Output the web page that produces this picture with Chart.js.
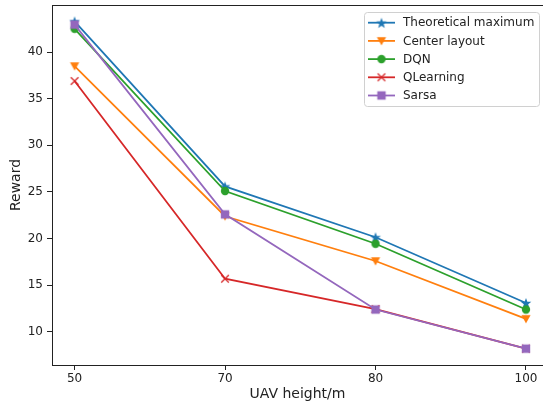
<!DOCTYPE html>
<html>
<head>
<meta charset="utf-8">
<script src="https://cdn.jsdelivr.net/npm/chart.js@4"></script>
<style>
  html, body { margin: 0; padding: 0; background: #fff; overflow: hidden; }
  #wrap { width: 543px; height: 412px; }
</style>
</head>
<body>
<div id="wrap"><canvas id="myChart"></canvas></div>
<script>
// datos
const alturas = ['50', '70', '80', '100'];
const yTicks = [10, 15, 20, 25, 30, 35, 40];
const teorico = [43.3, 25.6, 20.15, 13.1];
const centro = [38.5, 22.4, 17.6, 11.4];
const dqn = [42.5, 25.1, 19.45, 12.4];
const qlearning = [36.9, 15.7, 12.45, 8.2];
const sarsa = [42.95, 22.6, 12.4, 8.2];

const nombres = ['Theoretical maximum', 'Center layout', 'DQN', 'QLearning', 'Sarsa'];
const series = [teorico, centro, dqn, qlearning, sarsa];
const colores = ['#1f77b4', '#ff7f0e', '#2ca02c', '#d62728', '#9467bd'];
const marcas = ['star', 'tri', 'circle', 'x', 'square'];

const fuente = 'DejaVu Sans';

// dibuja un marcador estilo matplotlib en un canvas pequeño
function hacerMarca(tipo, color) {
    const s = 14;
    const c = document.createElement('canvas');
    c.width = s; c.height = s;
    const g = c.getContext('2d');
    const m = s / 2;
    g.fillStyle = color;
    g.strokeStyle = color;
    g.beginPath();
    if (tipo == 'star') {
        const R = 5.6, r = 2.3;
        for (let i = 0; i < 10; i++) {
            const a = -Math.PI / 2 + i * Math.PI / 5;
            const rad = i % 2 == 0 ? R : r;
            const px = m + rad * Math.cos(a), py = m + 0.6 + rad * Math.sin(a);
            if (i == 0) g.moveTo(px, py); else g.lineTo(px, py);
        }
        g.closePath(); g.fill();
    } else if (tipo == 'tri') {
        g.moveTo(m - 4.6, m - 3.8);
        g.lineTo(m + 4.6, m - 3.8);
        g.lineTo(m, m + 4.4);
        g.closePath(); g.fill();
    } else if (tipo == 'circle') {
        g.arc(m, m, 4.2, 0, Math.PI * 2);
        g.fill();
    } else if (tipo == 'x') {
        g.lineWidth = 1.3;
        g.moveTo(m - 3.8, m - 3.8); g.lineTo(m + 3.8, m + 3.8);
        g.moveTo(m + 3.8, m - 3.8); g.lineTo(m - 3.8, m + 3.8);
        g.stroke();
    } else {
        g.rect(m - 4.2, m - 4.2, 8.4, 8.4);
        g.fill();
    }
    return c;
}

const imgs = marcas.map((t, i) => hacerMarca(t, colores[i]));

const datasets = series.map((vals, i) => ({
    label: nombres[i],
    data: vals.map((v, j) => ({ x: j, y: v })),
    borderColor: colores[i],
    backgroundColor: colores[i],
    borderWidth: 1.8,
    pointStyle: imgs[i],
    pointRadius: 5,
    pointHoverRadius: 5,
    tension: 0,
    order: series.length - i
}));

// marco superior y leyenda a mano (estilo matplotlib)
const extras = {
    id: 'extras',
    afterDraw(chart) {
        const ctx = chart.ctx;
        const a = chart.chartArea;
        ctx.save();
        ctx.strokeStyle = '#222';
        ctx.lineWidth = 1;
        ctx.beginPath();
        ctx.moveTo(a.left, a.top + 0.5);
        ctx.lineTo(a.right, a.top + 0.5);
        ctx.stroke();

        // leyenda
        const bx = 364.5, by = 12.5, bw = 175, bh = 94;
        ctx.fillStyle = 'rgba(255,255,255,0.8)';
        ctx.strokeStyle = '#d0d0d0';
        ctx.lineWidth = 1;
        ctx.beginPath();
        ctx.roundRect(bx, by, bw, bh, 3);
        ctx.fill();
        ctx.stroke();
        ctx.font = '12px "' + fuente + '"';
        ctx.textBaseline = 'middle';
        ctx.textAlign = 'left';
        nombres.forEach((n, i) => {
            const yy = 22.7 + i * 18.2;
            ctx.strokeStyle = colores[i];
            ctx.lineWidth = 1.8;
            ctx.beginPath();
            ctx.moveTo(368, yy);
            ctx.lineTo(395, yy);
            ctx.stroke();
            ctx.drawImage(imgs[i], 381.5 - 7, yy - 7);
            ctx.fillStyle = '#222';
            ctx.fillText(n, 403, yy + 0.5);
        });
        ctx.restore();
    }
};

const chart = new Chart(document.getElementById('myChart').getContext('2d'), {
    type: 'line',
    data: { datasets: datasets },
    plugins: [extras],
    options: {
        responsive: true,
        maintainAspectRatio: false,
        animation: false,
        layout: { autoPadding: false, padding: { top: 5, right: 0, left: 0, bottom: 0 } },
        plugins: {
            legend: { display: false },
            tooltip: { enabled: false }
        },
        scales: {
            x: {
                type: 'linear',
                min: -0.15,
                max: 3.113,
                afterBuildTicks: (sc) => { sc.ticks = alturas.map((t, i) => ({ value: i })); },
                afterFit: (sc) => { sc.height = 47; sc.paddingLeft = 0; sc.paddingRight = 0; },
                ticks: {
                    callback: (v) => alturas[v],
                    color: '#222',
                    font: { family: fuente, size: 12 },
                    padding: 2,
                    maxRotation: 0
                },
                grid: { drawOnChartArea: false, drawTicks: true, tickLength: 5, color: '#222' },
                border: { display: true, color: '#222', width: 1 },
                title: {
                    display: true,
                    text: 'UAV height/m',
                    color: '#222',
                    font: { family: fuente, size: 14 },
                    padding: { top: 0, bottom: 9 }
                }
            },
            y: {
                type: 'linear',
                min: 6.45,
                max: 45.05,
                afterBuildTicks: (sc) => { sc.ticks = yTicks.map(v => ({ value: v })); },
                afterFit: (sc) => { sc.width = 52; sc.paddingTop = 0; sc.paddingBottom = 0; },
                ticks: {
                    color: '#222',
                    font: { family: fuente, size: 12 },
                    padding: 4
                },
                grid: { drawOnChartArea: false, drawTicks: true, tickLength: 5, color: '#222' },
                border: { display: true, color: '#222', width: 1 },
                title: {
                    display: true,
                    text: 'Reward',
                    color: '#222',
                    font: { family: fuente, size: 14 },
                    padding: { top: 8, bottom: 0 }
                }
            }
        }
    }
});
</script>
</body>
</html>
